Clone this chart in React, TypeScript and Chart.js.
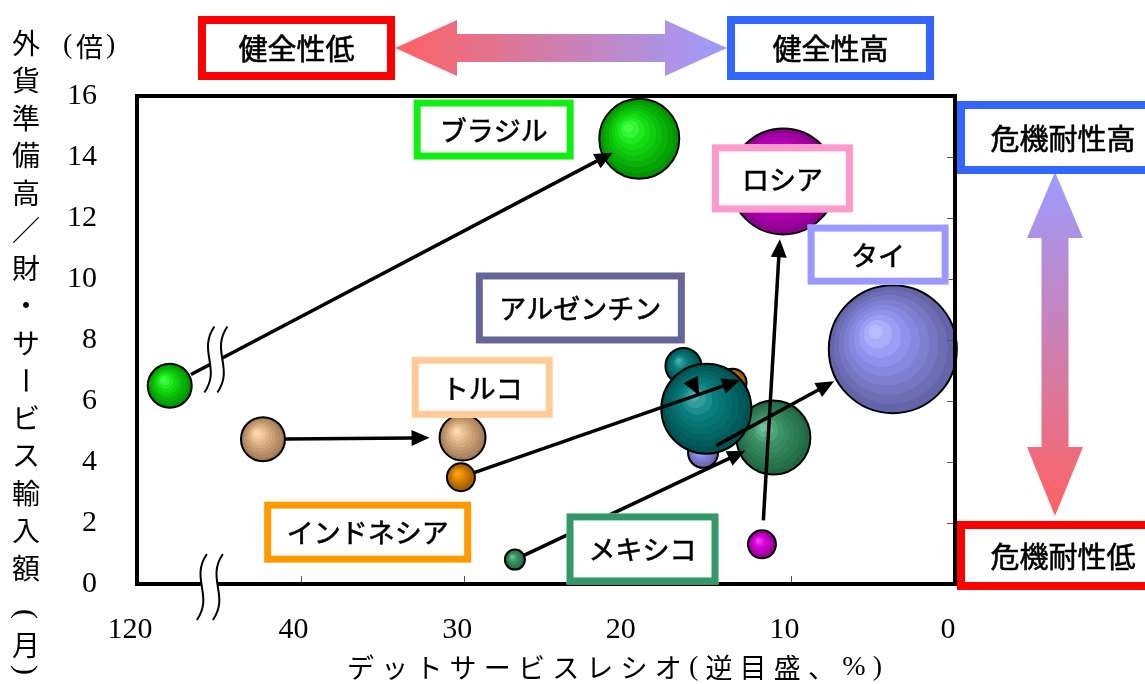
import React, { useEffect, useRef } from "react";
import { Chart, registerables } from "chart.js";

Chart.register(...registerables);

// ---------------- data ----------------
const countries = ["ブラジル", "トルコ", "インドネシア", "アルゼンチン", "タイ", "メキシコ", "ロシア"];
// debt service ratio (%) — before / after
const dsrBefore = [118, 42.3, 30.2, 16.6, 15.4, 26.9, 11.8];
const dsrAfter = [19.3, 30.1, 13.6, 15.2, 3.8, 11.1, 10.5];
// FX reserves / monthly imports (months)
const reservesBefore = [6.5, 4.75, 3.5, 7.15, 4.3, 0.8, 1.3];
const reservesAfter = [14.6, 4.8, 6.6, 5.75, 7.7, 4.8, 13.2];
// bubble size (radius)
const sizeBefore = [22, 22, 14, 18, 15, 10, 14];
const sizeAfter = [40, 23, 14, 45, 64, 37, 53];

const xTickValues = [0, 10, 20, 30, 40, 120];
const yTickValues = [0, 2, 4, 6, 8, 10, 12, 14, 16];

// ---------------- axis break (120 shown next to 40) ----------------
const BREAK_SHIFT = 70;
const toDisplay = (v: number) => (v > 45 ? v - BREAK_SHIFT : v);
const fromDisplay = (v: number) => (v > 45 ? v + BREAK_SHIFT : v);
const BREAK_AT = 45.3;

// ---------------- styles ----------------
const bubbleColors: string[][] = [
  ["#48ff48", "#12e012", "#009400"],
  ["#ffdab4", "#e4b689", "#a27c58"],
  ["#ffa526", "#e48a00", "#9a5800"],
  ["#46acac", "#0a8080", "#005252"],
  ["#babaff", "#9292f0", "#6464a8"],
  ["#70c096", "#3d9466", "#206844"],
  ["#ff40ff", "#e000e0", "#900090"],
];
const zOrder = [5, 6, 2, 0, 3, 1, 4];
const startGap = [2, 0, 0, 0, 0, 0, 10];
const endGap = [-10, 10, -22, 0, 3, -6, 5];

const labelLayout = [
  { x: 28.2, y: 14.9, w: 160, h: 60, color: "#11ee11" },
  { x: 28.9, y: 6.45, w: 141, h: 61, color: "#ffcc99" },
  { x: 35.9, y: 1.7, w: 207, h: 61, color: "#ff9900" },
  { x: 22.9, y: 9.05, w: 209, h: 71, color: "#666699" },
  { x: 4.7, y: 10.8, w: 141, h: 60, color: "#9999ff" },
  { x: 19.1, y: 1.15, w: 152, h: 71, color: "#339966" },
  { x: 10.55, y: 13.3, w: 141, h: 68, color: "#ff99cc" },
];

const JP = '"Noto Sans CJK JP", "Noto Sans", sans-serif';
const SERIF = '"Liberation Serif", "DejaVu Serif", serif';

function hexToRgb(h: string) {
  const n = parseInt(h.slice(1), 16);
  return [(n >> 16) & 255, (n >> 8) & 255, n & 255];
}
function lerpColor(a: string, b: string, t: number) {
  const A = hexToRgb(a), B = hexToRgb(b);
  const c = A.map((v, i) => Math.round(v + (B[i] - v) * t));
  return `rgb(${c[0]},${c[1]},${c[2]})`;
}
function bandColor(cols: string[], t: number) {
  return t < 0.35 ? lerpColor(cols[0], cols[1], t / 0.35) : lerpColor(cols[1], cols[2], (t - 0.35) / 0.65);
}

function drawArrow(ctx: CanvasRenderingContext2D, x0: number, y0: number, x1: number, y1: number) {
  const head = 18, hw = 8;
  const a = Math.atan2(y1 - y0, x1 - x0);
  const bx = x1 - head * Math.cos(a), by = y1 - head * Math.sin(a);
  ctx.strokeStyle = "#000";
  ctx.fillStyle = "#000";
  ctx.lineWidth = 3.5;
  ctx.lineCap = "butt";
  ctx.beginPath();
  ctx.moveTo(x0, y0);
  ctx.lineTo(bx + Math.cos(a) * 2, by + Math.sin(a) * 2);
  ctx.stroke();
  ctx.beginPath();
  ctx.moveTo(x1, y1);
  ctx.lineTo(bx + hw * Math.sin(a), by - hw * Math.cos(a));
  ctx.lineTo(bx - hw * Math.sin(a), by + hw * Math.cos(a));
  ctx.closePath();
  ctx.fill();
}

function drawBreak(ctx: CanvasRenderingContext2D, cx: number, cy: number, halfH: number, gap: number) {
  const l = cx - gap / 2, r = cx + gap / 2;
  const curve = (ox: number) => {
    ctx.moveTo(ox + 5, cy - halfH);
    ctx.bezierCurveTo(ox - 12, cy - halfH * 0.25, ox + 12, cy + halfH * 0.25, ox - 5, cy + halfH);
  };
  ctx.beginPath();
  curve(l);
  ctx.lineTo(r - 5, cy + halfH);
  ctx.bezierCurveTo(r + 12, cy + halfH * 0.25, r - 12, cy - halfH * 0.25, r + 5, cy - halfH);
  ctx.closePath();
  ctx.fillStyle = "#fff";
  ctx.fill();
  ctx.strokeStyle = "#000";
  ctx.lineWidth = 2;
  ctx.beginPath();
  curve(l);
  ctx.stroke();
  ctx.beginPath();
  curve(r);
  ctx.stroke();
}

function boxLabel(ctx: CanvasRenderingContext2D, cx: number, cy: number, w: number, h: number, color: string, lw: number, text: string, size: number) {
  ctx.fillStyle = "#fff";
  ctx.fillRect(cx - w / 2, cy - h / 2, w, h);
  ctx.strokeStyle = color;
  ctx.lineWidth = lw;
  ctx.strokeRect(cx - w / 2 + lw / 2, cy - h / 2 + lw / 2, w - lw, h - lw);
  ctx.fillStyle = "#000";
  ctx.strokeStyle = "#000";
  ctx.lineWidth = 0.6;
  ctx.font = `${size}px ${JP}`;
  ctx.textAlign = "center";
  ctx.textBaseline = "middle";
  ctx.fillText(text, cx, cy + 1);
  ctx.strokeText(text, cx, cy + 1);
}

const overlay = {
  id: "overlay",
  afterDatasetsDraw(chart: any) {
    const { ctx, chartArea: a } = chart;
    const xs = chart.scales.x, ys = chart.scales.y;
    ctx.save();

    // inward ticks
    ctx.strokeStyle = "#555";
    ctx.lineWidth = 1;
    yTickValues.slice(1, -1).forEach((v) => {
      const py = Math.round(ys.getPixelForValue(v)) + 0.5;
      ctx.beginPath();
      ctx.moveTo(a.right, py);
      ctx.lineTo(a.right - 8, py);
      ctx.stroke();
    });
    xTickValues.slice(1, -1).forEach((v) => {
      const px = Math.round(xs.getPixelForValue(toDisplay(v))) + 0.5;
      ctx.beginPath();
      ctx.moveTo(px, a.bottom);
      ctx.lineTo(px, a.bottom - 8);
      ctx.stroke();
    });

    // frame
    ctx.strokeStyle = "#000";
    ctx.lineWidth = 4;
    ctx.strokeRect(a.left, a.top, a.right - a.left, a.bottom - a.top);

    // arrows between before / after bubbles
    countries.forEach((_, i) => {
      const x0 = xs.getPixelForValue(toDisplay(dsrBefore[i]));
      const y0 = ys.getPixelForValue(reservesBefore[i]);
      const x1 = xs.getPixelForValue(toDisplay(dsrAfter[i]));
      const y1 = ys.getPixelForValue(reservesAfter[i]);
      const d = Math.hypot(x1 - x0, y1 - y0);
      const ux = (x1 - x0) / d, uy = (y1 - y0) / d;
      let s = sizeBefore[i] + startGap[i];
      let e = d - sizeAfter[i] - endGap[i];
      if (e < s + 20) {
        s = sizeBefore[i];
        e = d - 15;
      }
      drawArrow(ctx, x0 + ux * s, y0 + uy * s, x0 + ux * e, y0 + uy * e);
      const bx = xs.getPixelForValue(BREAK_AT);
      if ((x0 - bx) * (x1 - bx) < 0) {
        const t = (bx - x0) / (x1 - x0);
        drawBreak(ctx, bx + 2, y0 + (y1 - y0) * t - 3, 33, 13);
      }
    });

    // axis break on the x axis
    drawBreak(ctx, xs.getPixelForValue(BREAK_AT) - 4, a.bottom + 3, 33, 16);

    // country labels
    countries.forEach((name, i) => {
      const L = labelLayout[i];
      boxLabel(ctx, xs.getPixelForValue(L.x), ys.getPixelForValue(L.y), L.w, L.h, L.color, 7, name, 27);
    });

    ctx.restore();
  },
  afterDraw(chart: any) {
    const { ctx } = chart;
    ctx.save();

    // top double arrow
    const gH = ctx.createLinearGradient(395, 0, 727, 0);
    gH.addColorStop(0, "#ff6262");
    gH.addColorStop(1, "#9c9cff");
    ctx.fillStyle = gH;
    const cyH = 48;
    ctx.beginPath();
    ctx.moveTo(395, cyH);
    ctx.lineTo(457, cyH - 28);
    ctx.lineTo(457, cyH - 14);
    ctx.lineTo(665, cyH - 14);
    ctx.lineTo(665, cyH - 28);
    ctx.lineTo(727, cyH);
    ctx.lineTo(665, cyH + 28);
    ctx.lineTo(665, cyH + 14);
    ctx.lineTo(457, cyH + 14);
    ctx.lineTo(457, cyH + 28);
    ctx.closePath();
    ctx.fill();

    // right double arrow
    const cxV = 1055;
    const gV = ctx.createLinearGradient(0, 172, 0, 516);
    gV.addColorStop(0, "#9c9cff");
    gV.addColorStop(1, "#ff6262");
    ctx.fillStyle = gV;
    ctx.beginPath();
    ctx.moveTo(cxV, 172);
    ctx.lineTo(cxV + 28, 238);
    ctx.lineTo(cxV + 13.5, 238);
    ctx.lineTo(cxV + 13.5, 447);
    ctx.lineTo(cxV + 28, 447);
    ctx.lineTo(cxV, 516);
    ctx.lineTo(cxV - 28, 447);
    ctx.lineTo(cxV - 13.5, 447);
    ctx.lineTo(cxV - 13.5, 238);
    ctx.lineTo(cxV - 28, 238);
    ctx.closePath();
    ctx.fill();

    // outer boxes
    boxLabel(ctx, 296.5, 48, 197, 64, "#ff0000", 8, "健全性低", 29);
    boxLabel(ctx, 830.5, 48, 207, 64, "#3366ff", 8, "健全性高", 29);
    boxLabel(ctx, 1063, 137.5, 212, 73, "#3366ff", 8, "危機耐性高", 29);
    boxLabel(ctx, 1063, 555.5, 212, 69, "#ff0000", 8, "危機耐性低", 29);

    // y unit
    ctx.fillStyle = "#000";
    ctx.textAlign = "left";
    ctx.textBaseline = "middle";
    ctx.font = `28px ${SERIF}`;
    ctx.fillText("(", 63, 46);
    ctx.font = `27px ${JP}`;
    ctx.fillText("倍", 76, 47);
    ctx.font = `28px ${SERIF}`;
    ctx.fillText(")", 106, 46);

    // vertical y-axis title
    const yTitle = ["外", "貨", "準", "備", "高", "／", "財", "・", "サ", "ー", "ビ", "ス", "輸", "入", "額", "(", "月", ")"];
    const yPos = yTitle.map((_, i) => (i < 15 ? 43 + 37.5 * i : [614, 645, 670][i - 15]));
    ctx.textAlign = "center";
    yTitle.forEach((ch, i) => {
      const paren = ch === "(" || ch === ")";
      ctx.font = paren ? `30px ${SERIF}` : `28px ${JP}`;
      ctx.save();
      ctx.translate(26, yPos[i]);
      if (ch === "ー" || paren) ctx.rotate(Math.PI / 2);
      ctx.fillText(ch, 0, paren ? 1 : 0);
      ctx.restore();
    });

    // x-axis title with spread letters
    const xTitle = "デットサービスレシオ(逆目盛、%)";
    const chars = Array.from(xTitle);
    const fontFor = (c: string) => (c === "(" || c === ")" || c === "%" ? `28px ${SERIF}` : `27px ${JP}`);
    let total = 0;
    const widths = chars.map((c) => {
      ctx.font = fontFor(c);
      const w = ctx.measureText(c).width;
      total += w;
      return w;
    });
    const startX = 347, endX = 882;
    const sp = (endX - startX - total) / (chars.length - 1);
    let cx = startX;
    ctx.textAlign = "left";
    chars.forEach((c, i) => {
      ctx.font = fontFor(c);
      ctx.fillText(c, cx, 668);
      cx += widths[i] + sp;
    });

    ctx.restore();
  },
};

export default function App() {
  const ref = useRef<HTMLCanvasElement>(null);
  useEffect(() => {
    if (!ref.current) return;
    const datasets = countries.map((name, i) => {
      const cols = bubbleColors[i];
      return {
        label: name,
        order: zOrder[i],
        clip: false as any,
        data: [
          { x: toDisplay(dsrBefore[i]), y: reservesBefore[i], r: sizeBefore[i] },
          { x: toDisplay(dsrAfter[i]), y: reservesAfter[i], r: sizeAfter[i] },
        ],
        borderColor: "#000",
        borderWidth: 2,
        backgroundColor: (c: any) => {
          if (c.type !== "data" || !c.raw) return cols[1];
          const chart = c.chart;
          const xs = chart.scales.x, ys = chart.scales.y;
          if (!xs || !ys) return cols[1];
          const px = xs.getPixelForValue(c.raw.x), py = ys.getPixelForValue(c.raw.y), r = c.raw.r;
          if (!isFinite(px) || !isFinite(py)) return cols[1];
          const g = chart.ctx.createRadialGradient(px - r * 0.3, py - r * 0.3, 0, px, py, r);
          const bands = 9;
          for (let k = 0; k < bands; k++) {
            const col = bandColor(cols, k / (bands - 1));
            g.addColorStop(k / bands, col);
            g.addColorStop(Math.min(1, (k + 1) / bands - 0.0001), col);
          }
          return g;
        },
      };
    });

    const chart = new Chart(ref.current, {
      type: "bubble",
      data: { datasets },
      options: {
        responsive: false,
        animation: false,
        devicePixelRatio: 1,
        events: [],
        layout: { padding: { left: 0, right: 190, top: 96, bottom: 0 } },
        plugins: { legend: { display: false }, tooltip: { enabled: false } },
        scales: {
          x: {
            type: "linear",
            reverse: true,
            min: 0,
            max: 50,
            afterFit: (s: any) => {
              s.height = 100;
            },
            afterBuildTicks: (s: any) => {
              s.ticks = xTickValues.map((v) => ({ value: toDisplay(v) }));
            },
            grid: { display: false, drawTicks: false },
            border: { display: false },
            ticks: {
              color: "#000",
              font: { family: SERIF, size: 30 },
              padding: 28,
              labelOffset: -7,
              autoSkip: false,
              maxRotation: 0,
              callback: (v: any) => String(fromDisplay(Number(v))),
            },
          },
          y: {
            type: "linear",
            min: 0,
            max: 16,
            afterFit: (s: any) => {
              s.width = 137;
            },
            afterBuildTicks: (s: any) => {
              s.ticks = yTickValues.map((v) => ({ value: v }));
            },
            grid: { display: false, drawTicks: false },
            border: { display: false },
            ticks: {
              color: "#000",
              font: { family: SERIF, size: 30 },
              padding: 40,
              autoSkip: false,
            },
          },
        },
      },
      plugins: [overlay],
    } as any);
    return () => chart.destroy();
  }, []);

  return (
    <div style={{ position: "fixed", left: 0, top: 0, width: 1145, height: 684, background: "#fff" }}>
      <canvas ref={ref} width={1145} height={684} style={{ width: 1145, height: 684, display: "block" }} />
    </div>
  );
}
